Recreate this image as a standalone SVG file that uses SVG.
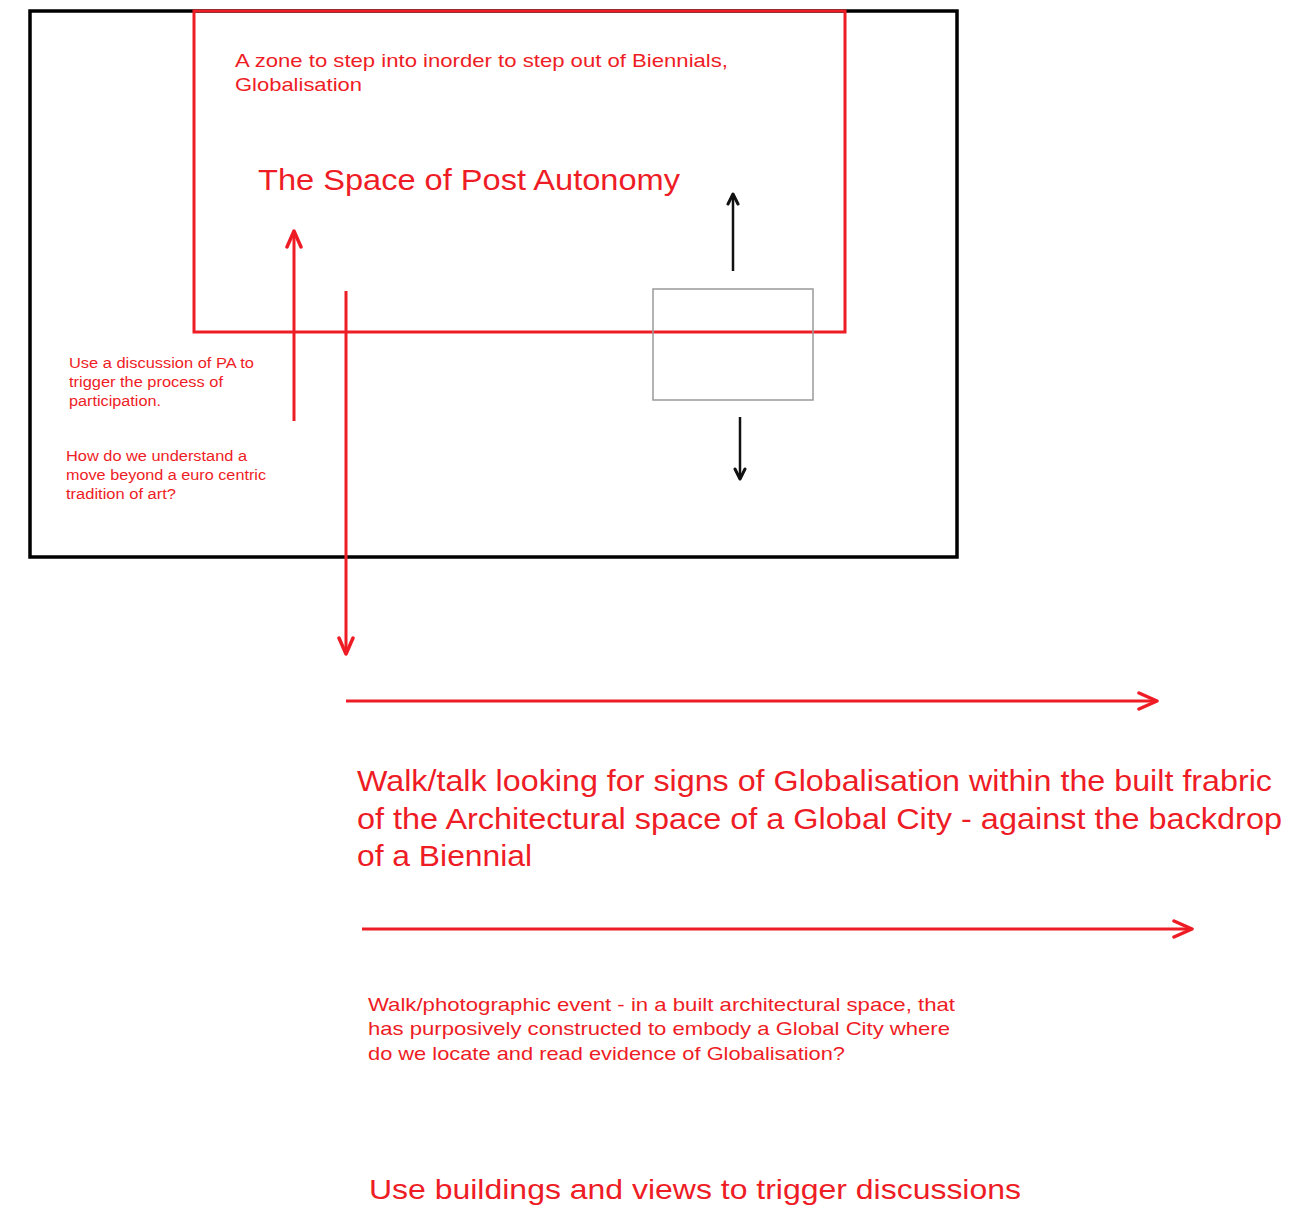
<svg xmlns="http://www.w3.org/2000/svg" width="1313" height="1206" viewBox="0 0 1313 1206">
<style>
.t{font-family:"Liberation Sans",Arial,sans-serif;fill:#ee1c25}
.r{stroke:#ee1c25;stroke-width:3;fill:none}
.k{stroke:#111;stroke-width:2.5;fill:none}
</style>
<defs>
<marker id="ar" viewBox="0 0 22 20" refX="20" refY="10" markerWidth="22" markerHeight="20" markerUnits="userSpaceOnUse" orient="auto">
<path d="M2,2 L20,10 L2,18" fill="none" stroke="#ee1c25" stroke-width="3.5" stroke-linecap="round" stroke-linejoin="round"/>
</marker>
<marker id="arv" viewBox="0 0 20 18" refX="18" refY="9" markerWidth="20" markerHeight="18" markerUnits="userSpaceOnUse" orient="auto">
<path d="M2,2 L18,9 L2,16" fill="none" stroke="#ee1c25" stroke-width="3.5" stroke-linecap="round" stroke-linejoin="round"/>
</marker>
<marker id="ak" viewBox="0 0 14 14" refX="12" refY="7" markerWidth="14" markerHeight="14" markerUnits="userSpaceOnUse" orient="auto">
<path d="M2,2 L12,7 L2,12" fill="none" stroke="#111" stroke-width="3" stroke-linecap="round" stroke-linejoin="round"/>
</marker>
</defs>
<rect width="1313" height="1206" fill="#fff"/>
<g id="outer-frame"><rect x="30" y="11" width="927" height="546" fill="none" stroke="#000" stroke-width="3.5"/></g>
<g id="post-autonomy-zone">
<rect x="194" y="11" width="651" height="321" class="r"/>
<text class="t" x="235" y="67" font-size="19" textLength="493" lengthAdjust="spacingAndGlyphs">A zone to step into inorder to step out of Biennials,</text>
<text class="t" x="235" y="91" font-size="19" textLength="127" lengthAdjust="spacingAndGlyphs">Globalisation</text>
<text class="t" x="258" y="190" font-size="29" textLength="422" lengthAdjust="spacingAndGlyphs">The Space of Post Autonomy</text>
</g>
<g id="small-box"><rect x="653" y="289" width="160" height="111" fill="none" stroke="#999" stroke-width="1.5"/></g>
<g id="note-pa">
<text class="t" x="69" y="368" font-size="14" textLength="185" lengthAdjust="spacingAndGlyphs">Use a discussion of PA to</text>
<text class="t" x="69" y="387" font-size="14" textLength="154" lengthAdjust="spacingAndGlyphs">trigger the process of</text>
<text class="t" x="69" y="406" font-size="14" textLength="92" lengthAdjust="spacingAndGlyphs">participation.</text>
</g>
<g id="note-euro">
<text class="t" x="66" y="461" font-size="14" textLength="181" lengthAdjust="spacingAndGlyphs">How do we understand a</text>
<text class="t" x="66" y="480" font-size="14" textLength="200" lengthAdjust="spacingAndGlyphs">move beyond a euro centric</text>
<text class="t" x="66" y="499" font-size="14" textLength="110" lengthAdjust="spacingAndGlyphs">tradition of art?</text>
</g>
<g id="walk-talk">
<text class="t" x="357" y="791" font-size="29" textLength="915" lengthAdjust="spacingAndGlyphs">Walk/talk looking for signs of Globalisation within the built frabric</text>
<text class="t" x="357" y="829" font-size="29" textLength="925" lengthAdjust="spacingAndGlyphs">of the Architectural space of a Global City - against the backdrop</text>
<text class="t" x="357" y="866" font-size="29" textLength="175" lengthAdjust="spacingAndGlyphs">of a Biennial</text>
</g>
<g id="walk-photo">
<text class="t" x="368" y="1011" font-size="19" textLength="587" lengthAdjust="spacingAndGlyphs">Walk/photographic event - in a built architectural space, that</text>
<text class="t" x="368" y="1035" font-size="19" textLength="582" lengthAdjust="spacingAndGlyphs">has purposively constructed to embody a Global City where</text>
<text class="t" x="368" y="1060" font-size="19" textLength="477" lengthAdjust="spacingAndGlyphs">do we locate and read evidence of Globalisation?</text>
</g>
<g id="use-buildings">
<text class="t" x="369" y="1199" font-size="28" textLength="652" lengthAdjust="spacingAndGlyphs">Use buildings and views to trigger discussions</text>
</g>
<g id="connectors">
<line x1="733" y1="271" x2="733" y2="194" class="k" marker-end="url(#ak)"/>
<line x1="740" y1="417" x2="740" y2="479" class="k" marker-end="url(#ak)"/>
<line x1="294" y1="421" x2="294" y2="231" class="r" marker-end="url(#arv)"/>
<line x1="346" y1="291" x2="346" y2="654" class="r" marker-end="url(#arv)"/>
<line x1="346" y1="701" x2="1157" y2="701" class="r" marker-end="url(#ar)"/>
<line x1="362" y1="929" x2="1192" y2="929" class="r" marker-end="url(#ar)"/>
</g>
</svg>
